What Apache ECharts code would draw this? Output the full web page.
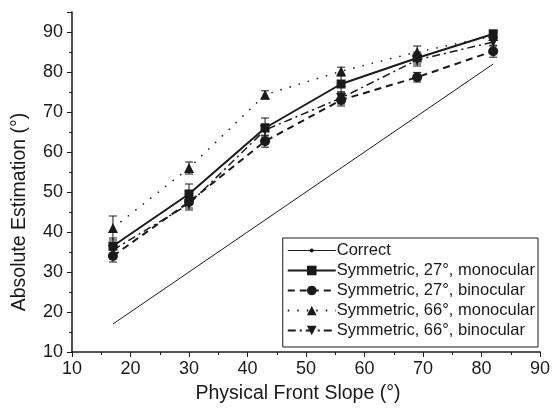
<!DOCTYPE html>
<html>
<head>
<meta charset="utf-8">
<script src="https://cdn.jsdelivr.net/npm/echarts@6/dist/echarts.min.js"></script>
<style>
  html, body { margin: 0; padding: 0; background: #fff; }
  #chart { width: 554px; height: 409px; }
</style>
</head>
<body>
<div id="chart"></div>
<script>
const FONT = 'Liberation Sans';
const INK = '#1a1a1a';

// slopes shown on screen
const slopes = [17, 30, 43, 56, 69, 82];
const correct = [17, 82];

const mono27 = [36.5, 49.5, 66, 77, 83.5, 89.5];
const bino27 = [34, 47.5, 62.7, 73, 78.7, 85.2];
const mono66 = [41, 56, 74.3, 80.2, 85, 89];
const bino66 = [35.5, 47, 65.5, 73.5, 83, 87.5];

const errMono27 = [2, 2.5, 2.5, 2, 1.5, 1];
const errBino27 = [1.5, 1.5, 1.5, 1.5, 1.2, 1.5];
const errMono66 = [3, 1.5, 1, 1, 1.5, 1];
const errBino66 = [1.5, 1.5, 1.5, 1.5, 1.5, 1];

const names = [
  'Correct',
  'Symmetric, 27°, monocular',
  'Symmetric, 27°, binocular',
  'Symmetric, 66°, monocular',
  'Symmetric, 66°, binocular'
];

// thin line with a small dot for the "Correct" legend entry
const correctIcon = 'path://M0,0h0.01v0.01h-0.01Z M47.99,11.99h0.01v0.01h-0.01Z ' +
  'M0,5.5h48v1h-48Z M24,4a2,2 0 1,1 0,4a2,2 0 1,1 0,-4Z';

function pairs(xs, ys) {
  return xs.map((x, i) => [x, ys[i]]);
}

function errSeries(vals, errs) {
  return {
    type: 'custom',
    silent: true,
    z: 1,
    data: slopes.map((x, i) => [x, vals[i] - errs[i], vals[i] + errs[i]]),
    renderItem: (params, api) => {
      const lo = api.coord([api.value(0), api.value(1)]);
      const hi = api.coord([api.value(0), api.value(2)]);
      const w = 4;
      const st = { stroke: INK, lineWidth: 1 };
      return {
        type: 'group',
        children: [
          { type: 'line', shape: { x1: lo[0], y1: lo[1], x2: hi[0], y2: hi[1] }, style: st },
          { type: 'line', shape: { x1: lo[0] - w, y1: lo[1], x2: lo[0] + w, y2: lo[1] }, style: st },
          { type: 'line', shape: { x1: hi[0] - w, y1: hi[1], x2: hi[0] + w, y2: hi[1] }, style: st }
        ]
      };
    }
  };
}

function lineSeries(name, data, symbol, size, lineType, width, rotate) {
  return {
    name,
    type: 'line',
    data,
    symbol,
    symbolSize: size,
    symbolRotate: rotate || 0,
    z: 3,
    lineStyle: { color: INK, width, type: lineType },
    itemStyle: { color: INK },
    emphasis: { disabled: true }
  };
}

const chart = echarts.init(document.getElementById('chart'));

chart.setOption({
  backgroundColor: '#fff',
  animation: false,
  textStyle: { fontFamily: FONT },
  grid: { left: 72, right: 14, top: 12, bottom: 53 },
  legend: {
    data: [{ name: names[0], icon: correctIcon }].concat(names.slice(1)),
    orient: 'vertical',
    right: 16,
    top: 238,
    itemWidth: 48,
    itemHeight: 12,
    itemGap: 3,
    padding: [4, 3, 8, 4],
    borderColor: INK,
    borderWidth: 1,
    textStyle: { fontFamily: FONT, fontSize: 16.5, color: INK, padding: [0, 0, 0, -4] }
  },
  xAxis: {
    type: 'value',
    min: 10,
    max: 90,
    interval: 10,
    name: 'Physical Front Slope (°)',
    nameLocation: 'middle',
    nameGap: 32,
    nameTextStyle: { fontFamily: FONT, fontSize: 19.5, color: INK, padding: [0, 16, 0, 0] },
    axisLine: { lineStyle: { color: INK, width: 1.5 } },
    axisTick: { inside: false, length: 5, lineStyle: { color: INK } },
    minorTick: { show: true, splitNumber: 2, length: 3, lineStyle: { color: INK } },
    axisLabel: { fontFamily: FONT, fontSize: 18, color: INK, margin: 8 },
    splitLine: { show: false }
  },
  yAxis: {
    type: 'value',
    min: 10,
    max: 95,
    interval: 10,
    name: 'Absolute Estimation (°)',
    nameLocation: 'middle',
    nameGap: 42,
    nameTextStyle: { fontFamily: FONT, fontSize: 19.5, color: INK, padding: [0, 60, 0, 0] },
    axisLine: { show: true, lineStyle: { color: INK, width: 1.5 } },
    axisTick: { inside: false, length: 5, lineStyle: { color: INK } },
    minorTick: { show: true, splitNumber: 2, length: 3, lineStyle: { color: INK } },
    axisLabel: { fontFamily: FONT, fontSize: 18, color: INK, margin: 9, showMaxLabel: false },
    splitLine: { show: false }
  },
  series: [
    lineSeries(names[0], pairs(correct, correct), 'none', 3, 'solid', 1, 0),
    lineSeries(names[1], pairs(slopes, mono27), 'rect', 9, 'solid', 2, 0),
    lineSeries(names[2], pairs(slopes, bino27), 'circle', 10, [7, 5], 2, 0),
    lineSeries(names[3], pairs(slopes, mono66), 'triangle', 10, [1.5, 8], 1.5, 0),
    lineSeries(names[4], pairs(slopes, bino66), 'triangle', 10, [8, 4, 2, 4], 1.5, 180),
    errSeries(mono27, errMono27),
    errSeries(bino27, errBino27),
    errSeries(mono66, errMono66),
    errSeries(bino66, errBino66)
  ]
});
</script>
</body>
</html>
